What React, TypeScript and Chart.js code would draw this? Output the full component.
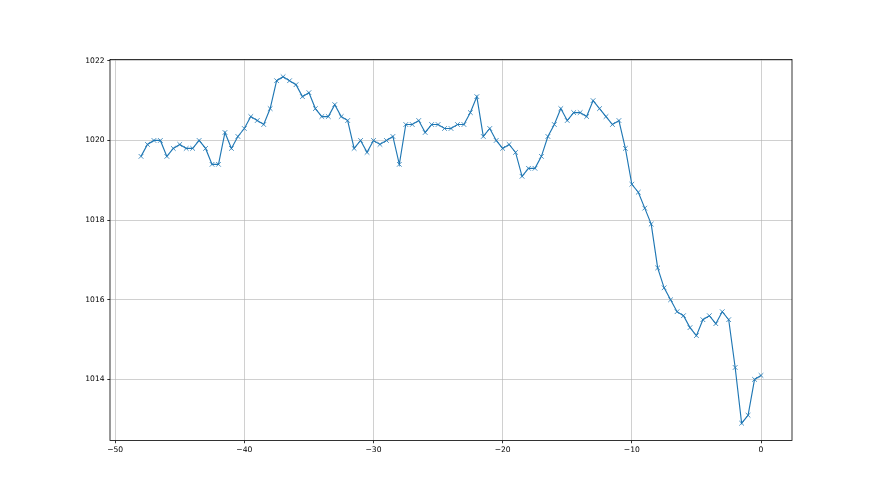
import React, { useEffect, useRef } from "react";
import { Chart, registerables } from "chart.js";

Chart.register(...registerables);

const hours: number[] = [
  -48, -47.5, -47, -46.5, -46, -45.5, -45, -44.5, -44, -43.5, -43, -42.5, -42, -41.5, -41, -40.5,
  -40, -39.5, -39, -38.5, -38, -37.5, -37, -36.5, -36, -35.5, -35, -34.5, -34, -33.5, -33, -32.5,
  -32, -31.5, -31, -30.5, -30, -29.5, -29, -28.5, -28, -27.5, -27, -26.5, -26, -25.5, -25, -24.5,
  -24, -23.5, -23, -22.5, -22, -21.5, -21, -20.5, -20, -19.5, -19, -18.5, -18, -17.5, -17, -16.5,
  -16, -15.5, -15, -14.5, -14, -13.5, -13, -12.5, -12, -11.5, -11, -10.5, -10, -9.5, -9, -8.5,
  -8, -7.5, -7, -6.5, -6, -5.5, -5, -4.5, -4, -3.5, -3, -2.5, -2, -1.5, -1, -0.5, 0,
];

const pressure: number[] = [
  1019.6, 1019.9, 1020.0, 1020.0, 1019.6, 1019.8, 1019.9, 1019.8, 1019.8, 1020.0, 1019.8, 1019.4, 1019.4, 1020.2, 1019.8, 1020.1,
  1020.3, 1020.6, 1020.5, 1020.4, 1020.8, 1021.5, 1021.6, 1021.5, 1021.4, 1021.1, 1021.2, 1020.8, 1020.6, 1020.6, 1020.9, 1020.6,
  1020.5, 1019.8, 1020.0, 1019.7, 1020.0, 1019.9, 1020.0, 1020.1, 1019.4, 1020.4, 1020.4, 1020.5, 1020.2, 1020.4, 1020.4, 1020.3,
  1020.3, 1020.4, 1020.4, 1020.7, 1021.1, 1020.1, 1020.3, 1020.0, 1019.8, 1019.9, 1019.7, 1019.1, 1019.3, 1019.3, 1019.6, 1020.1,
  1020.4, 1020.8, 1020.5, 1020.7, 1020.7, 1020.6, 1021.0, 1020.8, 1020.6, 1020.4, 1020.5, 1019.8, 1018.9, 1018.7, 1018.3, 1017.9,
  1016.8, 1016.3, 1016.0, 1015.7, 1015.6, 1015.3, 1015.1, 1015.5, 1015.6, 1015.4, 1015.7, 1015.5, 1014.3, 1012.9, 1013.1, 1014.0, 1014.1,
];

const xTicks: number[] = [-50, -40, -30, -20, -10, 0];
const yTicks: number[] = [1014, 1016, 1018, 1020, 1022];

const fmt = (v: number) => (v < 0 ? "\u2212" + String(Math.abs(v)) : String(v));

export default function App() {
  const ref = useRef<HTMLCanvasElement | null>(null);

  useEffect(() => {
    if (!ref.current) return;
    const xMin = Math.min(...hours);
    const xMax = Math.max(...hours);
    const yMin = Math.min(...pressure);
    const yMax = Math.max(...pressure);
    const xm = (xMax - xMin) * 0.05;
    const ym = (yMax - yMin) * 0.05;

    const frame = {
      id: "frame",
      afterDatasetsDraw(chart: any) {
        const { ctx, chartArea: a } = chart;
        ctx.save();
        ctx.strokeStyle = "#000";
        ctx.lineWidth = 0.8;
        ctx.strokeRect(a.left, a.top, a.right - a.left, a.bottom - a.top);
        ctx.restore();
      },
    };

    const font = { family: "'DejaVu Sans'", size: 7.6 };

    const chart = new Chart(ref.current, {
      type: "scatter",
      data: {
        datasets: [
          {
            data: hours.map((h, i) => ({ x: h, y: pressure[i] })),
            showLine: true,
            borderColor: "#1f77b4",
            borderWidth: 1.15,
            pointStyle: "crossRot",
            pointRadius: 3.3,
            pointBorderWidth: 0.8,
            pointBorderColor: "#1f77b4",
            pointBackgroundColor: "#1f77b4",
            tension: 0,
          },
        ],
      },
      options: {
        animation: false,
        responsive: false,
        devicePixelRatio: 1,
        events: [],
        layout: { padding: { left: 0, top: 59.4, right: 88, bottom: 0 } },
        plugins: { legend: { display: false }, tooltip: { enabled: false } },
        scales: {
          x: {
            type: "linear",
            min: xMin - xm,
            max: xMax + xm,
            afterFit: (s: any) => {
              s.height = 495 - 440.55;
            },
            afterBuildTicks: (s: any) => {
              s.ticks = xTicks.map((v) => ({ value: v }));
            },
            grid: {
              color: "#b0b0b0",
              lineWidth: 0.6,
              drawTicks: true,
              tickLength: 2.7,
              tickColor: "#000",
              tickWidth: 0.8,
            },
            border: { display: false },
            ticks: {
              color: "#000",
              font,
              padding: 2.2,
              maxRotation: 0,
              callback: (v: any) => fmt(Number(v)),
            },
          },
          y: {
            type: "linear",
            min: yMin - ym,
            max: yMax + ym,
            afterFit: (s: any) => {
              s.width = 110;
            },
            afterBuildTicks: (s: any) => {
              s.ticks = yTicks.map((v) => ({ value: v }));
            },
            grid: {
              color: "#b0b0b0",
              lineWidth: 0.6,
              drawTicks: true,
              tickLength: 2.7,
              tickColor: "#000",
              tickWidth: 0.8,
            },
            border: { display: false },
            ticks: {
              color: "#000",
              font,
              padding: 2.7,
              callback: (v: any) => fmt(Number(v)),
            },
          },
        },
      },
      plugins: [frame],
    });
    return () => chart.destroy();
  }, []);

  return (
    <div style={{ position: "fixed", left: 0, top: 0, width: 880, height: 495, background: "#fff" }}>
      <canvas ref={ref} width={880} height={495} style={{ display: "block" }} />
    </div>
  );
}
